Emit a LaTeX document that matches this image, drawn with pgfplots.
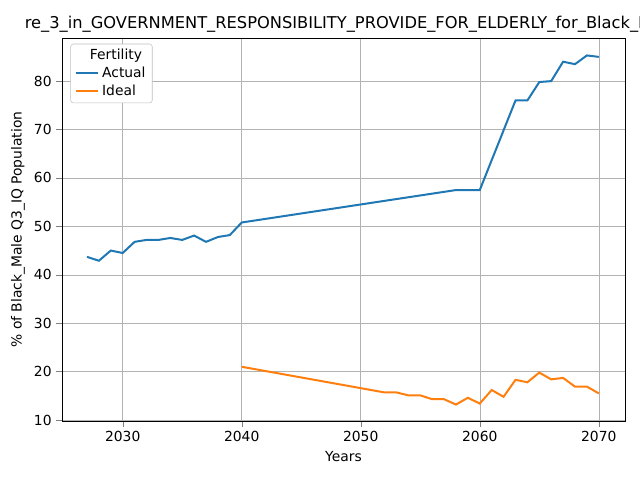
\documentclass[border=0pt]{standalone}
\usepackage{pgfplots}
\pgfplotsset{compat=1.18}
\usepackage{fontspec}
\setmainfont{DejaVu Sans}
\definecolor{c1}{HTML}{1F77B4}
\definecolor{c2}{HTML}{FF7F0E}
\begin{document}
\begin{tikzpicture}
\useasboundingbox (-46.5pt,-44.25pt) rectangle (433.5pt,315.75pt);
\begin{axis}[at={(0,0)},anchor=south west,scale only axis,width=422.25pt,height=287.25pt,
xmin=2024.9,xmax=2072.2,ymin=9.8,ymax=88.9,
xtick={2030,2040,2050,2060,2070},ytick={10,20,...,80},
xticklabel style={/pgf/number format/1000 sep={}},
/pgf/number format/assume math mode=true,
tick label style={font=\fontsize{10.4}{12}\selectfont},
label style={font=\fontsize{10.4}{12}\selectfont},
grid=major,grid style={gray!60},
tick align=outside,tick pos=left,
xlabel={Years},ylabel={\% of Black\_Male Q3\_IQ Population},
title={re\_3\_in\_GOVERNMENT\_RESPONSIBILITY\_PROVIDE\_FOR\_ELDERLY\_for\_Black\_Ma},
title style={font=\fontsize{12.2}{14}\selectfont,yshift=-5pt},
legend pos=north west,
legend style={font=\fontsize{10.4}{12}\selectfont,draw=gray!50,rounded corners=2pt,cells={anchor=west},at={(0.015,0.985)}},
legend cell align=left]
\addlegendimage{empty legend}\addlegendentry{\hspace{-1.2em}\ Fertility}
\addplot[c1,line width=1.5pt] coordinates {(2027,43.7)(2028,42.9)(2029,45)(2030,44.5)(2031,46.8)(2032,47.2)(2033,47.2)(2034,47.6)(2035,47.2)(2036,48.1)(2037,46.8)(2038,47.8)(2039,48.2)(2040,50.8)(2058,57.5)(2060,57.5)(2063,76)(2064,76)(2065,79.8)(2066,80)(2067,84)(2068,83.5)(2069,85.3)(2070,85)};
\addlegendentry{Actual}
\addplot[c2,line width=1.5pt] coordinates {(2040,21)(2052,15.7)(2053,15.7)(2054,15.1)(2055,15.1)(2056,14.3)(2057,14.3)(2058,13.2)(2059,14.6)(2060,13.4)(2061,16.2)(2062,14.8)(2063,18.3)(2064,17.8)(2065,19.8)(2066,18.4)(2067,18.7)(2068,16.9)(2069,16.9)(2070,15.5)};
\addlegendentry{Ideal}
\end{axis}
\end{tikzpicture}
\end{document}
